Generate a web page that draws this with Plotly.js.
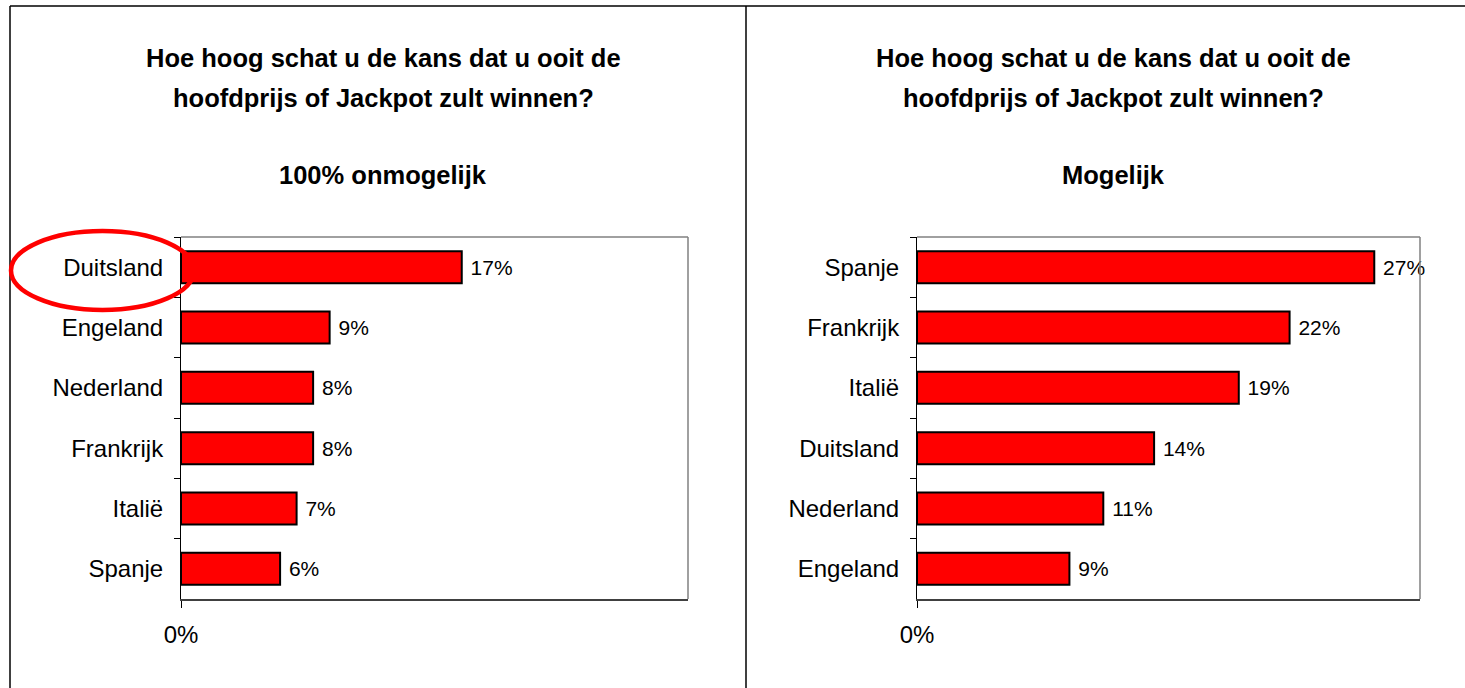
<!DOCTYPE html>
<html>
<head>
<meta charset="utf-8">
<script src="https://cdn.plot.ly/plotly-3.0.1.min.js"></script>
<style>html,body{margin:0;padding:0;background:#fff;}#chart{width:1465px;height:688px;}</style>
</head>
<body>
<div id="chart"></div>
<script>
// Left panel: "100% onmogelijk"
const leftCategories = ["Duitsland", "Engeland", "Nederland", "Frankrijk", "Italië", "Spanje"];
const leftValues = [17, 9, 8, 8, 7, 6];
// Right panel: "Mogelijk"
const rightCategories = ["Spanje", "Frankrijk", "Italië", "Duitsland", "Nederland", "Engeland"];
const rightValues = [27, 22, 19, 14, 11, 9];

const titleLine1 = "Hoe hoog schat u de kans dat u ooit de";
const titleLine2 = "hoofdprijs of Jackpot zult winnen?";
const leftSubtitle = "100% onmogelijk";
const rightSubtitle = "Mogelijk";
const xTickLabels = ["0%"];
const xTickVals = [0];

const W = 1465, H = 688;
const px = x => x / W;
const py = y => 1 - y / H;

const regular = "Liberation Sans, Arial, sans-serif";

function barTrace(cats, vals, xa, ya) {
  return {
    type: "bar", orientation: "h",
    y: cats, x: vals,
    xaxis: xa, yaxis: ya,
    marker: {color: "#ff0000", line: {color: "#000000", width: 2}},
    texttemplate: " %{x}%",
    textposition: "outside",
    cliponaxis: false,
    outsidetextfont: {family: regular, size: 21, color: "#000"},
    hoverinfo: "skip"
  };
}

function xAxis(domain, maxv) {
  return {
    domain: domain, range: [0, maxv], fixedrange: true,
    showgrid: false, zeroline: false,
    showline: true, linecolor: "#404040", linewidth: 2,
    tickvals: xTickVals, ticktext: xTickLabels,
    ticks: "outside", ticklen: 7, tickcolor: "#000", tickwidth: 1,
    ticklabelstandoff: 6,
    tickfont: {family: regular, size: 24, color: "#000"}
  };
}
function yAxis(domain, anchor) {
  return {
    domain: domain, anchor: anchor, type: "category",
    autorange: "reversed", fixedrange: true,
    showgrid: false, zeroline: false,
    showline: true, linecolor: "#000", linewidth: 1,
    ticks: "outside", tickson: "boundaries", ticklen: 6, tickcolor: "#000", tickwidth: 1,
    ticklabelstandoff: 12,
    tickfont: {family: regular, size: 24, color: "#000"}
  };
}

const yDom = [py(599), py(237)];

const data = [
  barTrace(leftCategories, leftValues, "x", "y"),
  barTrace(rightCategories, rightValues, "x2", "y2")
];

function titleAnn(text, x, y, size) {
  return {text: text, x: px(x), y: py(y), xref: "paper", yref: "paper",
    xanchor: "center", yanchor: "middle", showarrow: false,
    font: {family: regular, size: size, color: "#000", weight: "bold"}};
}

const layout = {
  width: W, height: H,
  margin: {l: 0, r: 0, t: 0, b: 0},
  paper_bgcolor: "#fff", plot_bgcolor: "#fff",
  showlegend: false,
  bargap: 0.47,
  xaxis: Object.assign(xAxis([px(181), px(688)], 30.7), {anchor: "y"}),
  yaxis: yAxis(yDom, "x"),
  xaxis2: Object.assign(xAxis([px(917), px(1420)], 29.7), {anchor: "y2"}),
  yaxis2: yAxis(yDom, "x2"),
  annotations: [
    titleAnn(titleLine1, 383, 58, 25.5),
    titleAnn(titleLine2, 383, 98, 25.5),
    titleAnn(leftSubtitle, 383, 175, 25.5),
    titleAnn(titleLine1, 1113, 58, 25.5),
    titleAnn(titleLine2, 1113, 98, 25.5),
    titleAnn(rightSubtitle, 1113, 175, 25.5)
  ],
  shapes: [
    // panel borders
    {type: "line", xref: "paper", yref: "paper", x0: px(10), x1: 1, y0: py(6), y1: py(6), line: {color: "#000", width: 1.5}},
    {type: "line", xref: "paper", yref: "paper", x0: px(10), x1: px(10), y0: py(6), y1: 0, line: {color: "#000", width: 1.5}},
    {type: "line", xref: "paper", yref: "paper", x0: px(746), x1: px(746), y0: py(6), y1: 0, line: {color: "#000", width: 1.5}},
    // plot area top/right borders
    {type: "line", xref: "x domain", yref: "y domain", x0: 0, x1: 1, y0: 1, y1: 1, line: {color: "#808080", width: 1.5}},
    {type: "line", xref: "x domain", yref: "y domain", x0: 1, x1: 1, y0: 0, y1: 1, line: {color: "#808080", width: 1.5}},
    {type: "line", xref: "x2 domain", yref: "y2 domain", x0: 0, x1: 1, y0: 1, y1: 1, line: {color: "#808080", width: 1.5}},
    {type: "line", xref: "x2 domain", yref: "y2 domain", x0: 1, x1: 1, y0: 0, y1: 1, line: {color: "#808080", width: 1.5}},
    // red ellipse highlight
    {type: "circle", xref: "paper", yref: "paper", x0: px(11), x1: px(194), y0: py(310), y1: py(231), line: {color: "#ff0000", width: 4.5}}
  ]
};

Plotly.newPlot("chart", data, layout, {displayModeBar: false, staticPlot: true});
</script>
</body>
</html>
